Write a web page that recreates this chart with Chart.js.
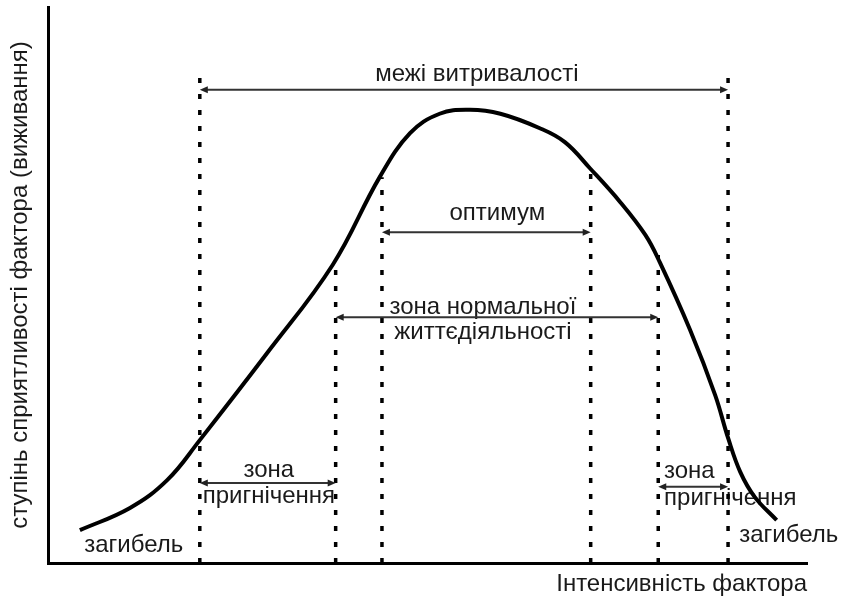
<!DOCTYPE html>
<html>
<head>
<meta charset="utf-8">
<script src="https://cdn.jsdelivr.net/npm/chart.js@4.4.1/dist/chart.umd.min.js"></script>
<style>
    html, body { margin: 0; padding: 0; background: #fff; }
    #wrap { width: 843px; height: 603px; }
</style>
</head>
<body>
<div id="wrap"><canvas id="chart"></canvas></div>
<script>
// крива виживання: інтенсивність фактора -> ступінь сприятливості
const curveX = [4.2, 10.8, 15.7, 20.0, 28.9, 37.5, 43.7, 47.7, 51.6, 55.6, 59.6, 64.8, 68.1, 71.4, 75.4, 78.7, 80.6, 84.6, 87.9, 89.6, 91.2, 93.1, 96.0];
const curveY = [5.9, 9.9, 14.9, 22.1, 37.8, 53.6, 69.4, 77.3, 80.8, 81.5, 80.8, 78.2, 75.7, 71.0, 64.9, 59.0, 54.1, 41.9, 30.2, 22.5, 16.4, 11.9, 7.7];

// межі зон (пунктир): положення та верхній край
const boundX = [20.0, 37.9, 44.0, 71.5, 80.4, 89.6];
const boundTop = [87.8, 54.5, 69.4, 70.0, 55.4, 87.8];

// стрілки між межами
const arrowFrom = [20.0, 44.0, 37.9, 20.0, 80.4];
const arrowTo = [89.6, 71.5, 80.4, 37.9, 89.6];
const arrowY = [85.1, 59.5, 44.2, 14.4, 13.7];

// підписи зон
const labelText = ['межі витривалості', 'оптимум', 'зона нормальної', 'життєдіяльності', 'зона', 'пригнічення', 'зона', 'пригнічення', 'загибель', 'загибель'];
const labelX = [56.5, 59.2, 57.3, 57.3, 29.1, 29.1, 84.5, 89.9, 11.3, 97.6];
const labelY = [87.8, 62.9, 46.0, 41.5, 16.7, 11.9, 16.4, 11.7, 3.2, 5.0];

const FONT = "'Liberation Sans', Arial, sans-serif";

const datasets = [];
boundX.forEach((x, i) => {
    datasets.push({
        data: [{ x: x, y: 0 }, { x: x, y: boundTop[i] }],
        borderColor: '#000',
        borderWidth: 3.5,
        borderDash: [5, 11],
        borderCapStyle: 'butt',
        pointRadius: 0,
        fill: false
    });
});
datasets.push({
    data: curveX.map((x, i) => ({ x: x, y: curveY[i] })),
    borderColor: '#000',
    borderWidth: 4,
    tension: 0.4,
    pointRadius: 0,
    fill: false
});

const labelsPlugin = {
    id: 'zone_labels',
    beforeDatasetsDraw: (chart) => {
        const ctx = chart.ctx;
        const sx = chart.scales.x, sy = chart.scales.y;
        ctx.save();
        ctx.fillStyle = '#1a1a1a';
        ctx.font = '24px ' + FONT;
        ctx.textAlign = 'center';
        ctx.textBaseline = 'middle';
        labelText.forEach((t, i) => {
            ctx.fillText(t, sx.getPixelForValue(labelX[i]), sy.getPixelForValue(labelY[i]));
        });
        ctx.restore();
    }
};

const arrowsPlugin = {
    id: 'zone_arrows',
    afterDatasetsDraw: (chart) => {
        const ctx = chart.ctx;
        const sx = chart.scales.x, sy = chart.scales.y;
        const head = (x, y, dir) => {
            ctx.beginPath();
            ctx.moveTo(x, y);
            ctx.lineTo(x - dir * 8, y - 3.5);
            ctx.lineTo(x - dir * 8, y + 3.5);
            ctx.closePath();
            ctx.fill();
        };
        ctx.save();
        ctx.strokeStyle = '#333';
        ctx.fillStyle = '#222';
        ctx.lineWidth = 2;
        arrowFrom.forEach((a, i) => {
            const x1 = sx.getPixelForValue(a);
            const x2 = sx.getPixelForValue(arrowTo[i]);
            const y = sy.getPixelForValue(arrowY[i]);
            ctx.beginPath();
            ctx.moveTo(x1 + 4, y);
            ctx.lineTo(x2 - 4, y);
            ctx.stroke();
            head(x1, y, -1);
            head(x2, y, 1);
        });
        ctx.restore();
    }
};

new Chart(document.getElementById('chart'), {
    type: 'line',
    data: { datasets: datasets },
    plugins: [labelsPlugin, arrowsPlugin],
    options: {
        responsive: true,
        maintainAspectRatio: false,
        animation: false,
        layout: { padding: { top: 7, right: 36, left: 0, bottom: 0 } },
        scales: {
            x: {
                type: 'linear',
                min: 0,
                max: 100,
                afterFit: (scale) => { scale.height = 40; },
                ticks: { display: false },
                grid: { display: false },
                border: { display: true, color: '#000', width: 3 },
                title: {
                    display: true,
                    text: 'Інтенсивність фактора',
                    align: 'end',
                    color: '#1a1a1a',
                    font: { family: FONT, size: 24 },
                    padding: { top: 0, bottom: 4 }
                }
            },
            y: {
                min: 0,
                max: 100,
                afterFit: (scale) => { scale.width = 48; },
                ticks: { display: false },
                grid: { display: false },
                border: { display: true, color: '#000', width: 3 },
                title: {
                    display: true,
                    text: 'ступінь сприятливості фактора (виживання)',
                    color: '#1a1a1a',
                    font: { family: FONT, size: 24 },
                    padding: { top: 6, bottom: 0 }
                }
            }
        },
        plugins: {
            legend: { display: false },
            tooltip: { enabled: false }
        }
    }
});
</script>
</body>
</html>
